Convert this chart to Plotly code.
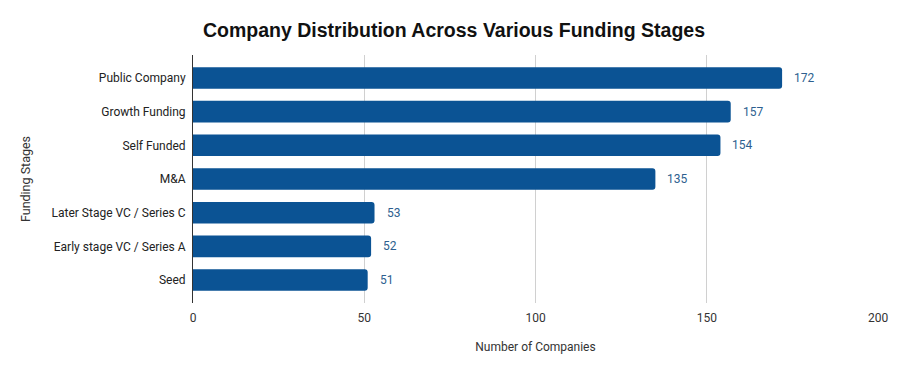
import plotly.graph_objects as go

categories = ["Public Company", "Growth Funding", "Self Funded", "M&A",
              "Later Stage VC / Series C", "Early stage VC / Series A", "Seed"]
values = [172, 157, 154, 135, 53, 52, 51]
x_ticks = [0, 50, 100, 150, 200]

bar_color = "#0b5394"
label_color = "#2d5f8f"
font_fam = "Roboto, Arial, sans-serif"

fig = go.Figure()
fig.add_trace(go.Bar(
    x=values, y=categories, orientation="h",
    marker=dict(color=bar_color, cornerradius=3, line=dict(width=0)),
    width=0.64, hoverinfo="x+y",
))

for c, v in zip(categories, values):
    fig.add_annotation(x=v, y=c, text=str(v), showarrow=False, xanchor="left",
                       xshift=10, font=dict(family=font_fam, size=12, color=label_color))

fig.update_layout(
    width=892, height=366,
    margin=dict(l=185, r=19, t=47, b=71),
    paper_bgcolor="white", plot_bgcolor="white",
    showlegend=False,
    title=dict(text="<b>Company Distribution Across Various Funding Stages</b>",
               x=0.5, xanchor="center", y=0.94, yanchor="middle",
               font=dict(family="Liberation Sans, Arial, sans-serif", size=19.5, color="#111111")),
    xaxis=dict(range=[0, 200], tickvals=x_ticks, ticktext=[str(t) for t in x_ticks],
               showgrid=True, gridcolor="#d0d0d0", gridwidth=1, zeroline=False,
               ticks="outside", ticklen=4, tickcolor="rgba(0,0,0,0)",
               tickfont=dict(family=font_fam, size=12, color="#333333"),
               title=dict(text="Number of Companies", standoff=18,
                          font=dict(family=font_fam, size=12, color="#333333"))),
    yaxis=dict(categoryorder="array", categoryarray=categories, autorange=False,
               range=[6.68, -0.68], showgrid=False, zeroline=False,
               showline=True, linecolor="#333333", linewidth=1,
               ticks="outside", ticklen=4, tickcolor="rgba(0,0,0,0)",
               tickfont=dict(family=font_fam, size=12, color="#222222"),
               title=dict(text="Funding Stages", standoff=18,
                          font=dict(family=font_fam, size=12.5, color="#333333"))),
)

fig.write_html("out.html")
